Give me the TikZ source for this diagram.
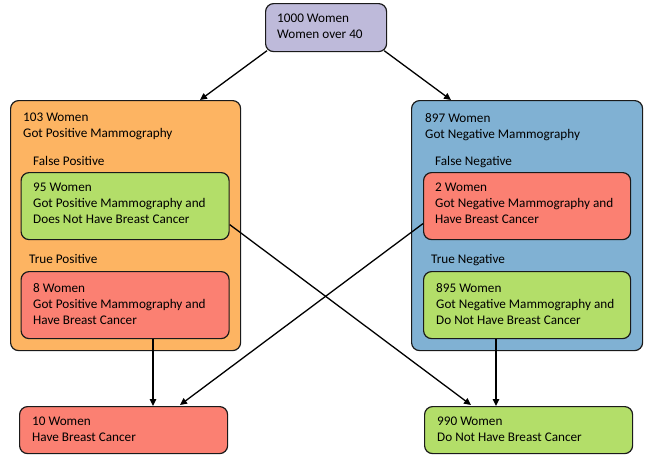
\documentclass[tikz,border=0pt]{standalone}
\usepackage{fontspec}
\setmainfont{Carlito}
\usetikzlibrary{arrows.meta,calc}
\definecolor{lav}{HTML}{BEBADA}
\definecolor{orng}{HTML}{FDB462}
\definecolor{blu}{HTML}{80B1D3}
\definecolor{grn}{HTML}{B3DE69}
\definecolor{rd}{HTML}{FB8072}
\definecolor{edge}{HTML}{1A1A1A}
\begin{document}
\begin{tikzpicture}[x=1pt,y=-1pt,
  box/.style={draw=edge, line width=1.2pt, rounded corners=8pt, inner sep=0pt, anchor=north west},
  txt/.style={font=\fontsize{13.2}{16}\selectfont, align=left, anchor=north west, inner sep=0pt, text=black},
  arr/.style={-{Triangle[length=7pt,width=6.5pt]}, line width=1.3pt, draw=black}]
\useasboundingbox (0,0) rectangle (649,458);
% boxes
\node[box, fill=lav, minimum width=121pt, minimum height=48pt] (top) at (265,3) {};
\node[box, fill=orng, minimum width=230pt, minimum height=250pt] (pos) at (10,100) {};
\node[box, fill=blu, minimum width=231pt, minimum height=250pt] (neg) at (411,100) {};
\node[box, fill=grn, minimum width=208pt, minimum height=67pt] (fp) at (20.5,172) {};
\node[box, fill=rd, minimum width=208pt, minimum height=67pt] (tp) at (20.5,271) {};
\node[box, fill=rd, minimum width=207pt, minimum height=67pt] (fn) at (423,172) {};
\node[box, fill=grn, minimum width=207pt, minimum height=67pt] (tn) at (423,271) {};
\node[box, fill=rd, minimum width=208pt, minimum height=47pt] (bc) at (19,406) {};
\node[box, fill=grn, minimum width=208pt, minimum height=47pt] (nbc) at (424,406) {};
% texts
\node[txt] (ttop) at (277,14) {1000 Women\\Women over 40};
\node[txt] (tpos) at (23,113) {103 Women\\Got Positive Mammography};
\node[txt] (lfp) at (33,156) {False Positive};
\node[txt] (tfp) at (33,183) {95 Women\\Got Positive Mammography and\\Does Not Have Breast Cancer};
\node[txt] (ltp) at (29,254) {True Positive};
\node[txt] (ttp) at (33,283) {8 Women\\Got Positive Mammography and\\Have Breast Cancer};
\node[txt] (tneg) at (425,113) {897 Women\\Got Negative Mammography};
\node[txt] (lfn) at (435,156) {False Negative};
\node[txt] (tfn) at (435,183) {2 Women\\Got Negative Mammography and\\Have Breast Cancer};
\node[txt] (ltn) at (431,254) {True Negative};
\node[txt] (ttn) at (436,283) {895 Women\\Got Negative Mammography and\\Do Not Have Breast Cancer};
\node[txt] (tbc) at (32,417) {10 Women\\Have Breast Cancer};
\node[txt] (tnbc) at (437,417) {990 Women\\Do Not Have Breast Cancer};
% connectors
\draw[arr] ($(top.south west)+(2,-1.5)$) -- ($(pos.north west)+(190,0)$);
\draw[arr] ($(top.south east)+(-3,-1.5)$) -- ($(neg.north west)+(40,0)$);
\draw[arr] ($(fp.east)+(0,18.5)$) -- ($(nbc.north west)+(47,-1)$);
\draw[arr] ($(fn.west)+(0,17.5)$) -- ($(bc.north west)+(161,-1)$);
\coordinate (tpdown) at ($(tp.south west)+(132.5,0)$);
\draw[arr] (tpdown) -- (tpdown |- bc.north);
\coordinate (tndown) at ($(tn.south west)+(73,0)$);
\draw[arr] (tndown) -- (tndown |- nbc.north);
\end{tikzpicture}
\end{document}
